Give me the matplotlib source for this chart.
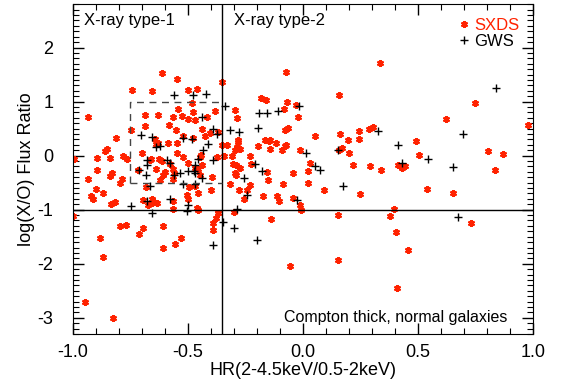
import matplotlib
matplotlib.use("Agg")
import matplotlib.pyplot as plt
import numpy as np
from matplotlib.ticker import MultipleLocator

plt.rcParams['font.family'] = ['Liberation Sans', 'DejaVu Sans']

# SXDS sources (hardness ratio, log X/O)
sxds_hr = [-0.613, -0.548, -0.742, -0.657, -0.497, -0.458, -0.352, -0.074, 0.337, 0.158,
           -0.181, -0.16, -0.07, -0.03, -0.08, 0.749, -0.483,
           -0.935, -0.541, -0.476, -0.686, -0.628, -0.563, -0.526, -0.497, -0.468, -0.381,
           -0.417, -0.296, -0.284, -0.02, 0.623, 0.98,
           -0.686, -0.748, -0.58, -0.552, -0.52, -0.478, -0.812, -0.642, -0.403, -0.37,
           -0.437, -0.425, -0.077, -0.063, 0.053, 0.164, 0.245, 0.288, 0.307, 0.198, 0.245,
           0.493, -0.164, -0.142, -0.283,
           -0.628, -0.587, -0.548, -0.638, -0.852, -0.86, -0.352, -0.33, -0.283, -0.287,
           -0.273, -0.294, -0.196, -0.145, -0.116, -0.142, -0.077, -0.073, -0.091, -0.012,
           0.159, 0.169, 0.203, 0.504, 0.806, 0.872,
           -0.993, -0.893, -0.84, -0.783, -0.765, -0.70, -0.545, -0.52, -0.447, -0.374,
           -0.442, -0.661, -0.623, -0.664, -0.613, -0.577, -0.497, -0.439, -0.341, -0.309,
           -0.229, 0.032, -0.302, -0.29, -0.273, -0.225, 0.22, 0.293, 0.413, 0.445, 0.43,
           0.34, 0.837, -0.157, 0.024, -0.041, -0.294,
           -0.896, -0.83, -0.838, -0.715, -0.599, -0.563, -0.638, -0.558, -0.606, -0.62,
           -0.563, -0.932, -0.787, -0.795, -0.396, -0.454, -0.447, -0.47,
           -0.291, -0.152, -0.316, -0.229, -0.087, 0.024, -0.276, -0.241, -0.255, -0.171,
           -0.113, -0.102, 0.093, 0.25, -0.041, -0.012, -0.009, 0.542, 0.655,
           -0.681, -0.493, -0.468, -0.454, -0.399, -0.899, -0.867, -0.922, -0.91, -0.835,
           -0.817, -0.696, -0.657, -0.645, -0.657, -0.635, -0.671, -0.565, -0.565, -0.505,
           -0.497, -0.458, -0.454,
           -0.297, -0.37, -0.139, 0.152, 0.398, 0.38, 0.73, 0.406, 0.457, 0.411, -0.055,
           0.152, -0.997, -0.795, -0.768, -0.881, -0.87, -0.71, -0.693, -0.606, -0.606,
           -0.555, -0.53, -0.389, -0.377, -0.367, -0.391, -0.947, -0.823]
sxds_xo = [1.52, 1.41, 1.22, 1.19, 1.22, 1.24, 1.36, 1.54, 1.71, 1.13,
           1.06, 1.02, 1.0, 0.94, 0.87, 0.98, 0.98,
           0.72, 0.87, 0.80, 0.755, 0.76, 0.71, 0.74, 0.68, 0.65, 0.83,
           0.71, 0.85, 0.69, 0.72, 0.68, 0.57,
           0.545, 0.48, 0.56, 0.47, 0.37, 0.33, 0.33, 0.31, 0.42, 0.44,
           0.50, 0.37, 0.48, 0.51, 0.355, 0.405, 0.45, 0.50, 0.53, 0.29, 0.31,
           0.27, 0.29, 0.29, 0.28,
           0.23, 0.23, 0.23, 0.22, 0.13, 0.08, 0.19, 0.19, 0.25, 0.16,
           0.13, 0.10, 0.17, 0.27, 0.24, 0.13, 0.17, 0.19, 0.10, 0.10,
           0.11, 0.14, 0.055, 0.02, 0.08, 0.03,
           -0.06, -0.04, -0.04, 0.0, -0.07, 0.04, 0.04, -0.03, -0.03, -0.03,
           0.02, -0.07, -0.07, -0.09, -0.10, -0.15, -0.14, -0.18, -0.01, -0.01,
           -0.01, -0.14, -0.15, -0.18, -0.22, -0.16, -0.17, -0.20, -0.18, -0.20, -0.22,
           -0.27, -0.26, -0.30, -0.28, -0.33, -0.33,
           -0.27, -0.33, -0.38, -0.27, -0.30, -0.24, -0.24, -0.32, -0.36, -0.45,
           -0.44, -0.44, -0.44, -0.50, -0.39, -0.24, -0.35, -0.22,
           -0.36, -0.45, -0.53, -0.55, -0.53, -0.50, -0.64, -0.64, -0.80, -0.74,
           -0.74, -0.84, -0.64, -0.71, -0.79, -0.92, -1.0, -0.62, -0.70,
           -0.58, -0.58, -0.57, -0.69, -0.64, -0.61, -0.70, -0.74, -0.80, -0.90,
           -0.85, -0.82, -0.81, -0.85, -0.88, -0.88, -0.92, -0.84, -0.99, -0.73,
           -0.81, -0.96, -1.01,
           -1.04, -1.06, -1.17, -1.09, -0.99, -1.11, -1.25, -1.42, -1.74, -2.44, -2.04,
           -1.94, -1.12, -1.30, -1.28, -1.53, -1.88, -1.45, -1.34, -1.30, -1.71,
           -1.63, -1.53, -1.24, -1.16, -1.07, -1.38, -2.71, -3.0]

# GWS sources
gws_hr = [-0.558, -0.478, -0.422, -0.338, -0.016, 0.839, -0.106, -0.19, -0.155, -0.439,
          -0.196, -0.391, -0.371, -0.315, -0.277, -0.702, -0.657, -0.52, -0.483, 0.329,
          0.698, 0.413, -0.638, -0.62, -0.413, -0.432, 0.013, 0.155, 0.543, 0.43,
          -0.676, -0.676, -0.577, -0.589, -0.468, -0.454, -0.389, -0.71, -0.471, -0.497,
          -0.533, -0.681, -0.558, -0.468, -0.439, -0.207, -0.178, 0.053, 0.075, 0.652,
          -0.255, -0.522, -0.468, -0.664, 0.174, -0.243, -0.026, -0.577, -0.678, -0.747,
          -0.497, -0.505, -0.657, -0.287, -0.345, -0.299, -0.20, -0.391, 0.674]
gws_xo = [1.13, 1.13, 1.14, 0.91, 0.91, 1.26, 0.83, 0.78, 0.78, 0.72,
          0.51, 0.49, 0.405, 0.47, 0.43, 0.39, 0.34, 0.33, 0.31, 0.45,
          0.405, 0.20, 0.16, 0.18, 0.21, 0.10, 0.04, 0.11, -0.07, -0.13,
          -0.09, -0.18, -0.13, -0.09, -0.18, -0.06, -0.09, -0.26, -0.29, -0.28,
          -0.33, -0.35, -0.36, -0.33, -0.42, -0.16, -0.28, -0.20, -0.26, -0.21,
          -0.42, -0.52, -0.53, -0.57, -0.57, -0.73, -0.82, -0.81, -0.84, -0.93,
          -0.92, -1.02, -1.07, -0.99, -1.22, -1.33, -1.57, -1.65, -1.13]

hr_split = -0.35
box_x = [-0.75, -0.35]
box_y = [-0.5, 1.0]

fig = plt.figure(figsize=(5.65, 3.89), dpi=100)
ax = fig.add_axes([0.1287, 0.1414, 0.8141, 0.8476])

ax.plot(sxds_hr, sxds_xo, linestyle='none', marker=(6, 2, 0), markersize=5,
        markeredgewidth=1.5, color='#ff2200', label='SXDS')
ax.plot(gws_hr, gws_xo, linestyle='none', marker='+', markersize=6,
        markeredgewidth=1.0, color='black', label='GWS')

ax.axvline(hr_split, color='black', lw=1)
ax.axhline(-1, color='black', lw=1)
ax.plot([box_x[0], box_x[0], box_x[1]], [box_y[0], box_y[1], box_y[1]],
        color='#444444', lw=1, ls=(0, (5, 4)))
ax.plot([box_x[0], box_x[1]], [box_y[0], box_y[0]],
        color='#444444', lw=1, ls=(0, (5, 4)))

ax.set_xlim(-1.0, 1.0)
ax.set_ylim(-3.3, 2.8)
ax.xaxis.set_minor_locator(MultipleLocator(0.1))
ax.yaxis.set_minor_locator(MultipleLocator(0.1))
ax.set_xticks([-1.0, -0.5, 0.0, 0.5, 1.0])
ax.set_xticklabels(['-1.0', '-0.5', '0.0', '0.5', '1.0'])
ax.set_yticks([-3, -2, -1, 0, 1, 2])
ax.set_yticklabels(['-3', '-2', '-1', '0', '1', '2'])
ax.tick_params(which='both', direction='in', top=True, right=True, labelsize=13)
ax.tick_params(which='major', length=8, width=1)
ax.tick_params(which='minor', length=4, width=0.8)
ax.tick_params(axis='x', pad=7)
ax.tick_params(axis='y', pad=14)

ax.set_xlabel('HR(2-4.5keV/0.5-2keV)', fontsize=13, labelpad=1)
ax.set_ylabel('log(X/O) Flux Ratio', fontsize=13, labelpad=2)

ax.text(-0.95, 2.5, 'X-ray type-1', fontsize=12, va='center')
ax.text(-0.30, 2.5, 'X-ray type-2', fontsize=12, va='center')
ax.text(0.89, -3.0, 'Compton thick, normal galaxies', fontsize=11.5,
        va='center', ha='right')

ax.legend(loc='upper right', frameon=False, fontsize=12, handlelength=0.6,
          handletextpad=0.3, labelspacing=0.1, borderaxespad=0.4,
          labelcolor='markeredgecolor')

fig.savefig('out.png', dpi=100)
